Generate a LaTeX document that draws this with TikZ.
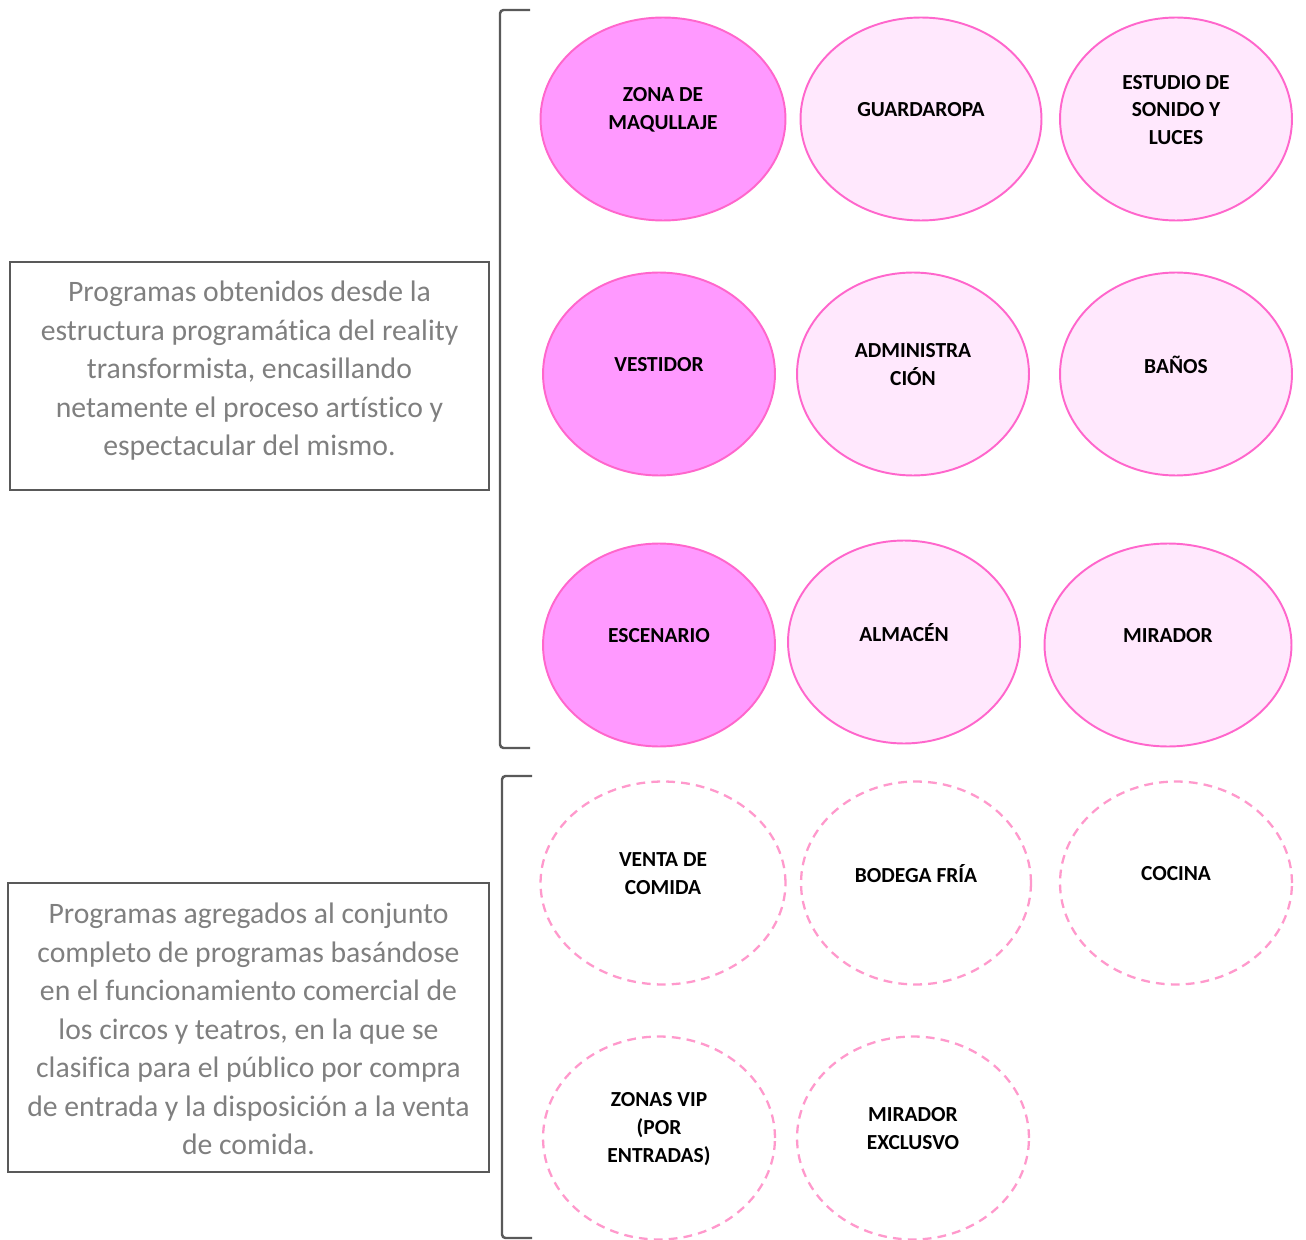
\documentclass[tikz,border=0pt]{standalone}
\usepackage{fontspec}
\setmainfont{Carlito}[Ligatures=NoCommon]
\usetikzlibrary{shapes.geometric}
\definecolor{rosaFuerte}{HTML}{FF99FF}
\definecolor{rosaClaro}{HTML}{FFE8FD}
\definecolor{rosaBorde}{HTML}{FF66CC}
\definecolor{rosaPunteado}{HTML}{FF99CC}
\definecolor{grisTexto}{HTML}{7F7F7F}
\definecolor{grisLinea}{HTML}{595959}
\begin{document}
\begin{tikzpicture}[x=0.02cm, y=-0.02cm]
    % Styles
    \tikzstyle{zona} = [draw=rosaBorde, line width=1.1pt, ellipse, minimum height=4.06cm, inner sep=0pt]
    \tikzstyle{fuerte} = [zona, fill=rosaFuerte]
    \tikzstyle{claro} = [zona, fill=rosaClaro]
    \tikzstyle{extra} = [ellipse, draw=rosaPunteado, line width=1.3pt, dash pattern=on 5pt off 3.5pt, minimum height=4.06cm, inner sep=0pt]
    \tikzstyle{etiqueta} = [align=center, inner sep=0pt, yshift=-0.04cm, font=\bfseries\fontsize{12.2}{15.9}\selectfont]
    \tikzstyle{marco} = [draw=grisLinea, line width=1.1pt, rectangle, inner sep=0pt]
    \tikzstyle{nota} = [align=center, inner sep=0pt, text=grisTexto, font=\fontsize{16.9}{21.9}\selectfont]
    \tikzstyle{llave} = [draw=grisLinea, line width=1.4pt, rounded corners=2pt]

    \useasboundingbox (0,0) rectangle (1306,1240);

    % Notes
    \node[marco, minimum width=9.58cm, minimum height=4.56cm] (marcoUno) at (249.5,376) {};
    \node[nota] (notaUno) at (249.5,371) {Programas obtenidos desde la\\estructura programática del reality\\transformista, encasillando\\netamente el proceso artístico y\\espectacular del mismo.};
    \node[marco, minimum width=9.62cm, minimum height=5.78cm] (marcoDos) at (248.5,1027.5) {};
    \node[nota] (notaDos) at (248.5,1029) {Programas agregados al conjunto\\completo de programas basándose\\en el funcionamiento comercial de\\los circos y teatros, en la que se\\clasifica para el público por compra\\de entrada y la disposición a la venta\\de comida.};

    % Brackets
    \draw[llave] (530,10) -- (500,10) -- (500,748) -- (530,748);
    \draw[llave] (532,776) -- (502,776) -- (502,1238) -- (532,1238);

    % Row 1
    \node[fuerte, minimum width=4.9cm] (maquillaje) at (663,119) {};
    \node[etiqueta] (maquillajeT) at (663,108) {ZONA DE\\MAQULLAJE};
    \node[claro, minimum width=4.82cm] (guardaropa) at (921,119) {};
    \node[etiqueta] (guardaropaT) at (921,108) {GUARDAROPA};
    \node[claro, minimum width=4.64cm] (estudio) at (1176,119) {};
    \node[etiqueta] (estudioT) at (1176,108) {ESTUDIO DE\\SONIDO Y\\LUCES};

    % Row 2
    \node[fuerte, minimum width=4.64cm] (vestidor) at (659,374) {};
    \node[etiqueta] (vestidorT) at (659,363) {VESTIDOR};
    \node[claro, minimum width=4.64cm] (admin) at (913,374) {};
    \node[etiqueta] (adminT) at (913,363) {ADMINISTRA\\CIÓN};
    \node[claro, minimum width=4.64cm] (banos) at (1176,374) {};
    \node[etiqueta] (banosT) at (1176,363) {BAÑOS};

    % Row 3
    \node[fuerte, minimum width=4.64cm] (escenario) at (659,645) {};
    \node[etiqueta] (escenarioT) at (659,634) {ESCENARIO};
    \node[claro, minimum width=4.64cm] (almacen) at (904,642) {};
    \node[etiqueta] (almacenT) at (904,631) {ALMACÉN};
    \node[claro, minimum width=4.94cm] (mirador) at (1168,645) {};
    \node[etiqueta] (miradorT) at (1168,634) {MIRADOR};

    % Row 4
    \node[extra, minimum width=4.9cm] (venta) at (663,883) {};
    \node[etiqueta] (ventaT) at (663,872) {VENTA DE\\COMIDA};
    \node[extra, minimum width=4.6cm] (bodega) at (916,883) {};
    \node[etiqueta] (bodegaT) at (916,872) {BODEGA FRÍA};
    \node[extra, minimum width=4.64cm] (cocina) at (1176,883) {};
    \node[etiqueta] (cocinaT) at (1176,872) {COCINA};

    % Row 5
    \node[extra, minimum width=4.64cm] (vip) at (659,1138) {};
    \node[etiqueta] (vipT) at (659,1127) {ZONAS VIP\\(POR\\ENTRADAS)};
    \node[extra, minimum width=4.64cm] (exclusivo) at (913,1138) {};
    \node[etiqueta] (exclusivoT) at (913,1127) {MIRADOR\\EXCLUSVO};
\end{tikzpicture}
\end{document}
